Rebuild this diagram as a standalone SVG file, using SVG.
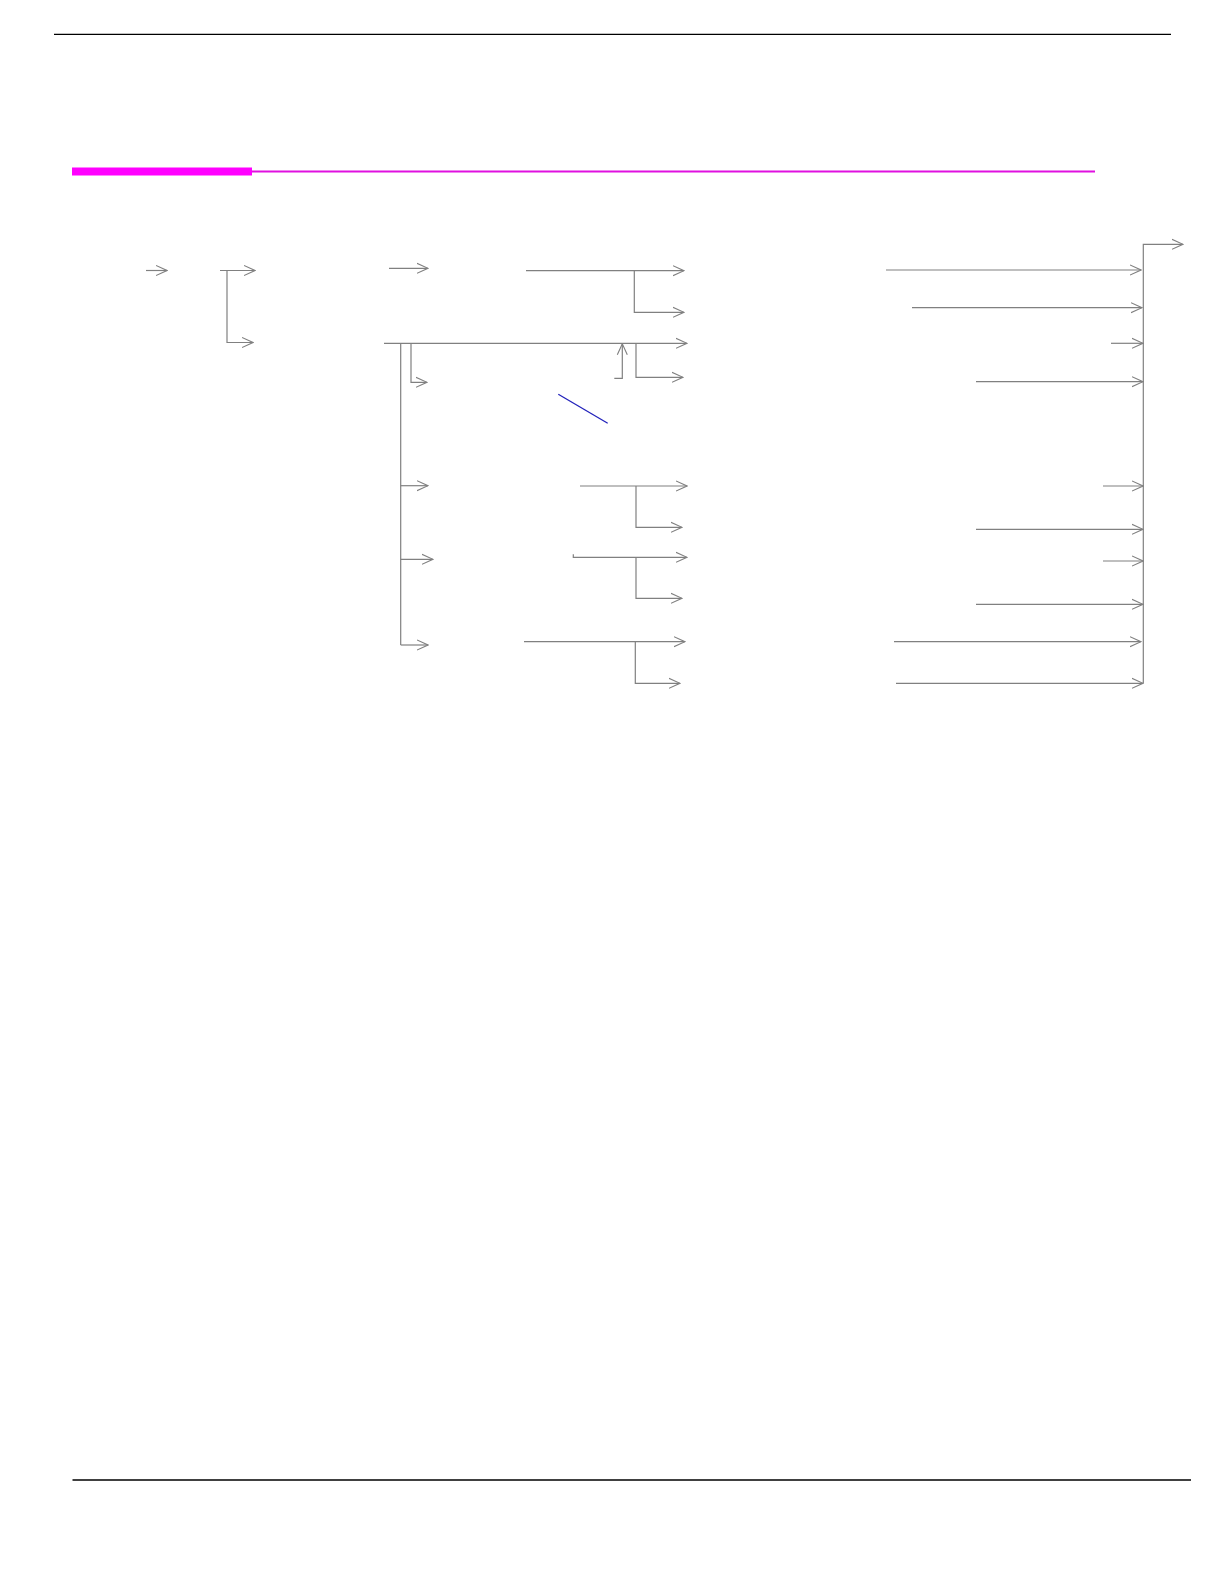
<svg xmlns="http://www.w3.org/2000/svg" width="1224" height="1582" viewBox="0 0 1224 1582">
<style>
.c{fill:none;stroke:#808080;stroke-width:1.2;marker-end:url(#ah)}
.p{fill:none;stroke:#808080;stroke-width:1.2}
.rule{stroke:#000;stroke-width:1.3}
</style>
<defs>
<marker id="ah" viewBox="0 0 12 12" refX="11" refY="6" markerWidth="12" markerHeight="12" markerUnits="userSpaceOnUse" orient="auto">
<path d="M0,1 L11,6 L0,11" fill="none" stroke="#808080" stroke-width="1.1"/>
</marker>
</defs>
<rect width="1224" height="1582" fill="#fff"/>
<g id="page">
<line class="rule" x1="54" y1="34.3" x2="1171" y2="34.3"/>
<line class="rule" x1="72.5" y1="1480" x2="1191" y2="1480"/>
<rect x="72" y="167.5" width="180" height="8" fill="#ff00ff"/>
<line x1="252" y1="171.5" x2="1095" y2="171.5" stroke="#e010e0" stroke-width="2"/>
<line x1="558.3" y1="394.3" x2="607.7" y2="423.3" stroke="#2222bb" stroke-width="1.3"/>
</g>
<g id="connectors">
<path class="c" d="M146,270.5 H167"/>
<path class="c" d="M220,270.5 H255"/>
<path class="c" d="M227,270.5 V342.5 H253"/>
<path class="c" d="M389,268.3 H428"/>
<path class="c" d="M384,343.3 H687"/>
<path class="p" d="M400.7,343.3 V645"/>
<path class="c" d="M400.7,485.7 H428"/>
<path class="c" d="M400.7,559.3 H433"/>
<path class="c" d="M400.7,645 H428"/>
<path class="c" d="M411,343.3 V382.3 H427"/>
<path class="c" d="M614.3,378.3 H622.3 V343.8"/>
<path class="c" d="M636,343.3 V377.3 H683"/>
<path class="c" d="M526,270.7 H684"/>
<path class="c" d="M634.3,270.7 V312.3 H684"/>
<path class="c" d="M580,486 H687"/>
<path class="c" d="M636,486 V527.3 H682"/>
<path class="c" d="M573.3,554.3 V557.3 H687"/>
<path class="c" d="M636,557.3 V598.3 H682"/>
<path class="c" d="M524,641.7 H685"/>
<path class="c" d="M635.3,641.7 V683.3 H680"/>
<path class="c" d="M886,270 H1141"/>
<path class="c" d="M912,307.7 H1142"/>
<path class="c" d="M1111,343.3 H1143"/>
<path class="c" d="M976,381.7 H1143"/>
<path class="c" d="M1103,486 H1143"/>
<path class="c" d="M976,529.3 H1143"/>
<path class="c" d="M1103,561 H1143"/>
<path class="c" d="M976,604.3 H1143"/>
<path class="c" d="M894,641.7 H1141"/>
<path class="c" d="M896,683.3 H1143"/>
<path class="c" d="M1143.3,683.3 V244.3 H1183"/>
</g>
</svg>
